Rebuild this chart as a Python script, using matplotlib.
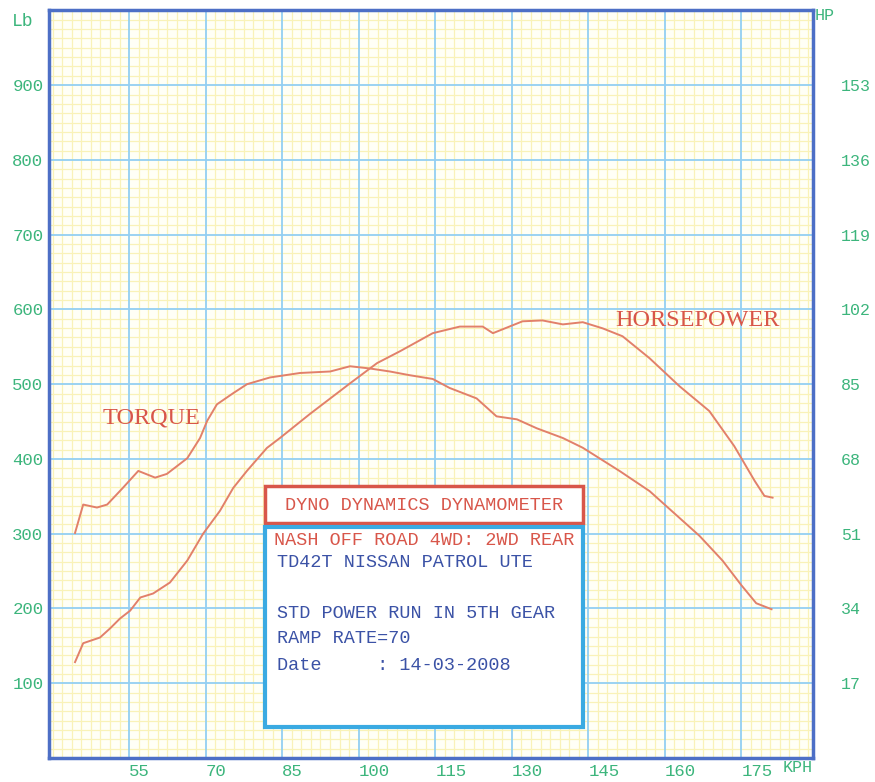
import numpy as np
import matplotlib
matplotlib.use('Agg')
import matplotlib.pyplot as plt
from matplotlib.patches import Rectangle
from matplotlib.ticker import MultipleLocator

# Torque curve (lb)
torque_kph = [44.4, 46.0, 48.7, 50.7, 53.6, 56.8, 60.1, 62.4, 66.4, 68.9, 70.3, 72.2,
              75.4, 78.1, 82.6, 88.5, 94.4, 98.3, 102.2, 106.1, 110.0, 114.5, 117.8,
              123.1, 127.0, 131.0, 134.9, 140.0, 143.9, 151.1, 157.0, 166.8, 171.3,
              175.0, 177.9, 180.9]
torque_lb = [301, 339, 335, 339, 360, 384, 375, 380, 401, 428, 451, 473,
             488, 500, 509, 515, 517, 524, 521, 517, 512, 507, 495,
             481, 457, 453, 441, 428, 415, 384, 357, 297, 264,
             231, 207, 199]

# Horsepower curve (HP, right axis)
hp_kph = [44.4, 46.0, 49.3, 51.3, 53.2, 55.2, 57.2, 59.7, 63.0, 66.4, 69.5, 72.8,
          75.4, 78.1, 82.0, 84.6, 90.4, 98.3, 103.6, 108.1, 114.5, 119.8, 124.3,
          126.3, 132.1, 136.0, 140.0, 143.9, 147.8, 151.7, 157.0, 162.9, 168.7,
          173.6, 177.6, 179.5, 181.1]
hp = [21.8, 26.1, 27.4, 29.5, 31.7, 33.5, 36.5, 37.4, 39.9, 44.9, 51.0, 56.2,
      61.4, 65.3, 70.5, 72.8, 78.2, 85.2, 89.8, 92.5, 96.6, 98.1, 98.1,
      96.6, 99.3, 99.5, 98.6, 99.1, 97.7, 95.9, 90.9, 84.5, 78.9,
      70.9, 63.0, 59.6, 59.2]

kph_ticks = [55, 70, 85, 100, 115, 130, 145, 160, 175]
lb_ticks = [100, 200, 300, 400, 500, 600, 700, 800, 900]
hp_ticks = [17, 34, 51, 68, 85, 102, 119, 136, 153]

info_lines = ["TD42T NISSAN PATROL UTE", "", "STD POWER RUN IN 5TH GEAR",
              "RAMP RATE=70", "Date     : 14-03-2008"]

green = '#3cb57c'
curve_col = '#e2806a'
red = '#d8564a'
blue_txt = '#3b52a6'
mono = 'Liberation Mono'

fig = plt.figure(figsize=(8.75, 7.82), dpi=100)
fig.patch.set_facecolor('white')
ax = fig.add_axes([0.056, 0.0307, 0.873, 0.956])
ax.set_facecolor('#fffff6')
ax.set_xlim(39.3, 189)
ax.set_ylim(0, 1000)

# yellow graph-paper grid, 8 small squares per major division
ax.xaxis.set_minor_locator(MultipleLocator(15 / 8, offset=55 % (15 / 8)))
ax.yaxis.set_minor_locator(MultipleLocator(100 / 8))
ax.set_xticks(kph_ticks)
ax.set_yticks(lb_ticks)
ax.grid(which='minor', color='#f9f2b8', linewidth=0.9)
ax.set_axisbelow(True)
for v in kph_ticks:
    ax.axvline(v, color='#93cff2', linewidth=1.3, zorder=0.8)
for v in lb_ticks:
    ax.axhline(v, color='#93cff2', linewidth=1.3, zorder=0.8)

ax.set_xticklabels([str(v) for v in kph_ticks], ha='left')
ax.set_yticklabels([str(v) for v in lb_ticks])
ax.tick_params(which='both', length=0, colors=green, labelsize=12.5, pad=4)
for lab in ax.get_xticklabels() + ax.get_yticklabels():
    lab.set_fontfamily(mono)

for sp in ax.spines.values():
    sp.set_color('#4d6fc6')
    sp.set_linewidth(2.5)

ax.plot(torque_kph, torque_lb, color=curve_col, linewidth=1.4)

ax2 = ax.twinx()
ax2.set_ylim(0, 170)
ax2.set_yticks(hp_ticks)
ax2.set_yticklabels([str(v) for v in hp_ticks])
ax2.tick_params(length=0, colors=green, labelsize=12, pad=20)
for lab in ax2.get_yticklabels():
    lab.set_fontfamily(mono)
for sp in ax2.spines.values():
    sp.set_visible(False)
ax2.plot(hp_kph, hp, color=curve_col, linewidth=1.4)

# axis unit labels
fig.text(12 / 875, 1 - 22 / 782, 'Lb', color=green, fontsize=13, family=mono,
         ha='left', va='center')
fig.text(815 / 875, 1 - 16 / 782, 'HP', color=green, fontsize=12, family=mono,
         ha='left', va='center')
fig.text(783 / 875, 1 - 768 / 782, 'KPH', color=green, fontsize=12, family=mono,
         ha='left', va='center')

# curve names
fig.text(615 / 875, 1 - 321 / 782, 'HORSEPOWER', color=red, fontsize=17.5,
         family='Liberation Serif', ha='left', va='center')
fig.text(103 / 875, 1 - 418 / 782, 'TORQUE', color=red, fontsize=17.5,
         family='Liberation Serif', ha='left', va='center')

# info boxes
ax.add_patch(Rectangle((0.283, 0.314), 0.416, 0.0495, transform=ax.transAxes,
                       facecolor='white', edgecolor=red, linewidth=2.5, zorder=5))
ax.add_patch(Rectangle((0.283, 0.0414), 0.416, 0.267, transform=ax.transAxes,
                       facecolor='white', edgecolor='#3aaae2', linewidth=3, zorder=5))
ax.text(0.491, 0.338, 'DYNO DYNAMICS DYNAMOMETER', transform=ax.transAxes,
        color=red, fontsize=13.3, family=mono, ha='center', va='center', zorder=6)
ax.text(0.294, 0.291, 'NASH OFF ROAD 4WD: 2WD REAR', transform=ax.transAxes,
        color=red, fontsize=13.3, family=mono, ha='left', va='center', zorder=6)
line_y = [0.261, 0.227, 0.193, 0.160, 0.124]
for txt, yy in zip(info_lines, line_y):
    ax.text(0.299, yy, txt, transform=ax.transAxes, color=blue_txt,
            fontsize=13.3, family=mono, ha='left', va='center', zorder=6)

plt.savefig('out.png', dpi=100)
